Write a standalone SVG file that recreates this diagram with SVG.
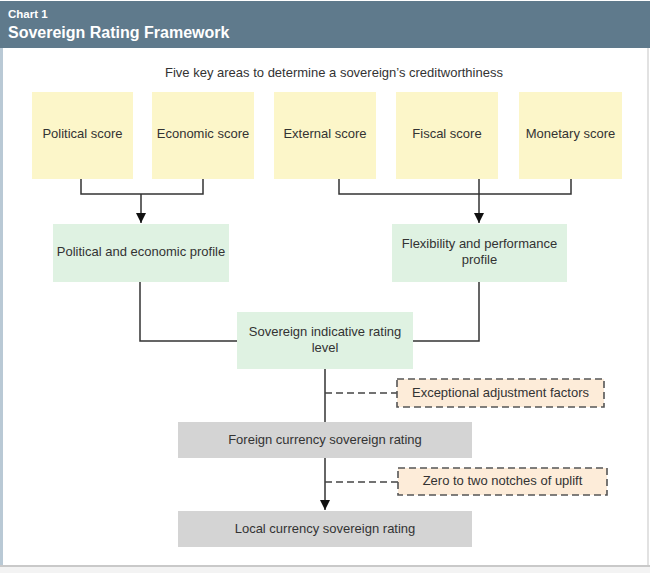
<svg xmlns="http://www.w3.org/2000/svg" width="650" height="573" viewBox="0 0 650 573">
<style>
text{font-family:"Liberation Sans",Arial,sans-serif;fill:#333;font-size:13px;text-anchor:middle}
.y{fill:#fcf6c9}
.g{fill:#dff2e2}
.k{fill:#d4d4d4}
.p{fill:#fdecd9;stroke:#555;stroke-width:1.6;stroke-dasharray:7,4}
.ln{fill:none;stroke:#333;stroke-width:1.5}
.dl{fill:none;stroke:#444;stroke-width:1.5;stroke-dasharray:7,4}
</style>
<defs>
<marker id="ah" viewBox="0 0 10 10" refX="10" refY="5" markerWidth="10" markerHeight="10" markerUnits="userSpaceOnUse" orient="auto">
<path d="M0,0L10,5L0,10z" fill="#111"/>
</marker>
</defs>
<rect x="0" y="0" width="650" height="573" fill="#fff"/>
<rect x="0" y="48" width="3" height="519" fill="#b9c9d5"/>
<rect x="647" y="48" width="2" height="519" fill="#e2e2e2"/>
<rect x="0" y="565" width="650" height="2" fill="#c9c9c9"/>
<rect x="0" y="567" width="650" height="6" fill="#f3f3f3"/>
<g id="header">
<rect x="0" y="1" width="650" height="47" fill="#5f7a8c"/>
<text x="8" y="18" style="fill:#fff;font-size:11.5px;font-weight:bold;text-anchor:start">Chart 1</text>
<text x="8" y="38" style="fill:#fff;font-size:16px;font-weight:bold;text-anchor:start">Sovereign Rating Framework</text>
</g>
<text x="334" y="77">Five key areas to determine a sovereign’s creditworthiness</text>
<g id="connectors">
<path class="ln" d="M81,179V194H203V179"/>
<path class="ln" d="M141,194V223" marker-end="url(#ah)"/>
<path class="ln" d="M339,179V194H571V179"/>
<path class="ln" d="M479,179V223" marker-end="url(#ah)"/>
<path class="ln" d="M140,282V341H237"/>
<path class="ln" d="M479,282V341H413"/>
<path class="ln" d="M325,369V422"/>
<path class="ln" d="M325,458V510" marker-end="url(#ah)"/>
<path class="dl" d="M325,393H397"/>
<path class="dl" d="M325,482H398"/>
</g>
<g id="political"><rect class="y" x="32" y="92" width="101" height="87"/><text x="82.5" y="138">Political score</text></g>
<g id="economic"><rect class="y" x="152" y="92" width="102" height="87"/><text x="203" y="138">Economic score</text></g>
<g id="external"><rect class="y" x="274" y="92" width="102" height="87"/><text x="325" y="138">External score</text></g>
<g id="fiscal"><rect class="y" x="396" y="92" width="102" height="87"/><text x="447" y="138">Fiscal score</text></g>
<g id="monetary"><rect class="y" x="519" y="92" width="103" height="87"/><text x="570.5" y="138">Monetary score</text></g>
<g id="pe-profile"><rect class="g" x="53" y="224" width="176" height="58"/><text x="141" y="256">Political and economic profile</text></g>
<g id="fp-profile"><rect class="g" x="392" y="224" width="175" height="58"/><text x="479.5" y="248">Flexibility and performance</text><text x="479.5" y="264">profile</text></g>
<g id="indicative"><rect class="g" x="237" y="312" width="176" height="57"/><text x="325" y="336">Sovereign indicative rating</text><text x="325" y="352">level</text></g>
<g id="exceptional"><rect class="p" x="397" y="379" width="207" height="28"/><text x="500.5" y="397">Exceptional adjustment factors</text></g>
<g id="foreign"><rect class="k" x="178" y="422" width="294" height="36"/><text x="325" y="444">Foreign currency sovereign rating</text></g>
<g id="uplift"><rect class="p" x="398" y="468" width="209" height="27"/><text x="502.5" y="485">Zero to two notches of uplift</text></g>
<g id="local"><rect class="k" x="178" y="511" width="294" height="36"/><text x="325" y="533">Local currency sovereign rating</text></g>
</svg>
